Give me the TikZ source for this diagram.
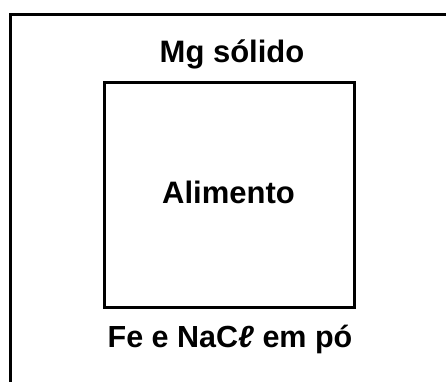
\documentclass[tikz,border=0pt]{standalone}
\usepackage{fontspec}
\setmainfont{Liberation Sans}
\begin{document}
\begin{tikzpicture}[x=1pt,y=-1pt,
  frameline/.style={line width=3pt},
  boxstyle/.style={draw,line width=3pt,minimum width=250pt,minimum height=225pt,inner sep=0pt},
  lbl/.style={anchor=base,inner sep=0pt,font=\fontsize{31}{34}\selectfont\bfseries},
  lblr/.style={anchor=base,inner sep=0pt,font=\fontsize{30.5}{34}\selectfont\bfseries}]
\useasboundingbox (0,0) rectangle (446,381);
\coordinate (tl) at (10,14);
\coordinate (tr) at (447,14);
\coordinate (bl) at (10,382);
\draw[frameline] (tr) -- (tl) -- (bl);
\node[boxstyle] (box) at (229.5,195) {};
\node[lbl] (mg) at (232,62) {Mg sólido};
\node[lbl] (alim) at (228.5,203) {Alimento};
\node[lblr] (fe) at (230,347) {Fe e NaC\textit{ℓ} em pó};
\end{tikzpicture}
\end{document}
